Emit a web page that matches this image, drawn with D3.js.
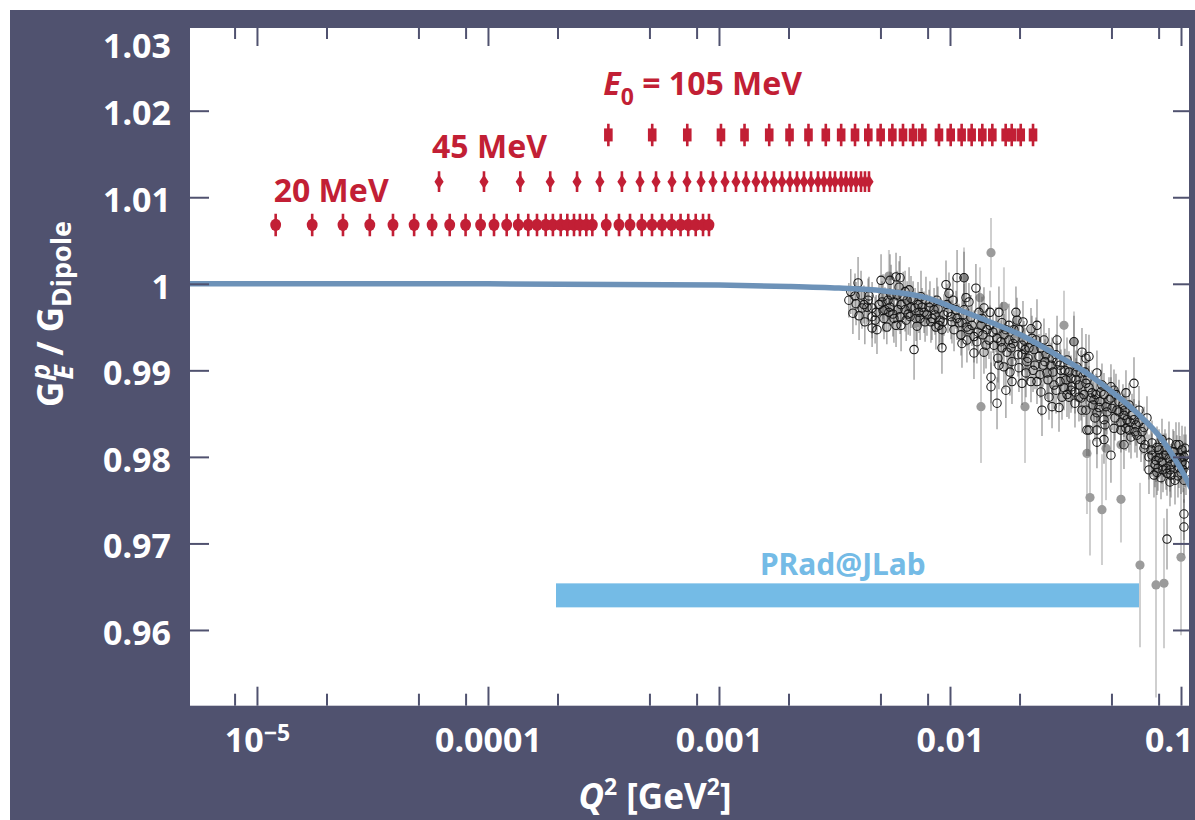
<!DOCTYPE html>
<html>
<head>
<meta charset="utf-8">
<title>Proton electric form factor ratio</title>
<script src="https://cdn.jsdelivr.net/npm/d3@7/dist/d3.min.js"></script>
<style>
  html, body { margin: 0; padding: 0; background: #ffffff; }
  svg { display: block; }
</style>
</head>
<body>
<svg id="chart" width="1195" height="820"></svg>
<script>
// ---------- axis ticks ----------
const xTicksMajor = [1e-5, 1e-4, 1e-3, 1e-2, 1e-1];
const xTickLabels = ["10", "0.0001", "0.001", "0.01", "0.1"];
const xTickExponents = ["\u22125", "", "", "", ""];
const xTicksMinor = [8e-6, 2e-5, 5e-5, 8e-5, 2e-4, 5e-4, 8e-4, 2e-3, 5e-3, 8e-3, 2e-2, 5e-2, 8e-2];
const yTicks = [0.96, 0.97, 0.98, 0.99, 1, 1.01, 1.02, 1.03];
const yTickLabels = ["0.96", "0.97", "0.98", "0.99", "1", "1.01", "1.02", "1.03"];

// ---------- projected beam-energy settings (Q^2 in GeV^2) ----------
const q2Beam20 = [1.205e-5, 1.734e-5, 2.357e-5, 3.08e-5, 3.88e-5, 4.79e-5, 5.73e-5, 6.83e-5, 8.0e-5, 9.29e-5,
  1.062e-4, 1.205e-4, 1.352e-4, 1.494e-4, 1.63e-4, 1.778e-4, 1.91e-4, 2.065e-4, 2.205e-4, 2.357e-4,
  2.5e-4, 2.665e-4, 2.83e-4, 3.25e-4, 3.69e-4, 4.12e-4, 4.63e-4, 5.13e-4, 5.67e-4, 6.24e-4,
  6.82e-4, 7.36e-4, 7.93e-4, 8.53e-4, 9.05e-4];
const q2Beam45 = [6.14e-5, 9.61e-5, 1.38e-4, 1.86e-4, 2.43e-4, 3.05e-4, 3.80e-4, 4.55e-4, 5.34e-4, 6.26e-4,
  7.27e-4, 8.36e-4, 9.42e-4, 1.062e-3, 1.185e-3, 1.309e-3, 1.446e-3, 1.582e-3, 1.730e-3, 1.874e-3,
  2.029e-3, 2.176e-3, 2.333e-3, 2.502e-3, 2.683e-3, 2.848e-3, 3.024e-3, 3.178e-3, 3.375e-3, 3.546e-3,
  3.728e-3, 3.918e-3, 4.119e-3, 4.285e-3, 4.460e-3];
const q2Beam105 = [3.32e-4, 5.14e-4, 7.29e-4, 1.02e-3, 1.29e-3, 1.65e-3, 2.02e-3, 2.44e-3, 2.90e-3, 3.38e-3,
  3.88e-3, 4.43e-3, 5.01e-3, 5.63e-3, 6.26e-3, 6.92e-3, 7.59e-3, 8.96e-3, 1.007e-2, 1.123e-2,
  1.241e-2, 1.380e-2, 1.525e-2, 1.742e-2, 1.850e-2, 2.024e-2, 2.288e-2];
const beamLevels = [1.0068, 1.0118, 1.0172];   // plotted offset for 20, 45, 105 MeV
const beamErrors = [0.0013, 0.0012, 0.0013];

// ---------- fit curve ----------
const fitQ2 = [4e-6, 1e-4, 1e-3, 2e-3, 3.31e-3, 5.08e-3, 7.87e-3, 1.09e-2, 1.52e-2, 2.13e-2, 2.96e-2,
  4.0e-2, 4.55e-2, 6.38e-2, 8.28e-2, 0.1062, 0.115];
const fitRatio = [1.0, 1.0, 0.99985, 0.9997, 0.9995, 0.9992, 0.9984, 0.9970, 0.9955, 0.9938, 0.9916,
  0.9895, 0.9884, 0.9852, 0.9820, 0.9773, 0.9755];

// ---------- PRad coverage ----------
const pradRange = [1.97e-4, 0.0663];
const pradLevel = 0.9640;

// ---------- measured points [Q^2, ratio, error] ----------
const mainzPoints = [
  [0.00400,1.0001,.0030],[0.00392,0.9977,.0025],[0.00424,0.9976,.0022],[0.00404,0.9963,.0028],
  [0.00437,0.9973,.0020],[0.00460,0.9972,.0030],[0.00460,0.9962,.0025],[0.00460,0.9949,.0022],
  [0.00483,0.9947,.0028],[0.00479,0.9967,.0020],[0.00503,1.0004,.0030],[0.00508,0.9979,.0024],
  [0.00523,0.9970,.0026],[0.00550,0.9973,.0022],[0.00556,0.9987,.0035],[0.00550,1.0004,.0030],
  [0.00584,1.0008,.0028],[0.00608,1.0007,.0025],[0.00602,0.9996,.0030],[0.00639,0.9991,.0024],
  [0.00665,0.9993,.0026],[0.00572,0.9960,.0028],[0.00584,0.9952,.0025],[0.00608,0.9962,.0020],
  [0.00614,0.9952,.0030],[0.00639,0.9970,.0025],[0.00672,0.9962,.0022],[0.00678,0.9973,.0024],
  [0.00699,0.9924,.0035],[0.00713,0.9960,.0026],[0.00734,0.9967,.0024],[0.00749,0.9985,.0030],
  [0.00757,0.9973,.0022],[0.00795,0.9964,.0024],[0.00811,0.9973,.0020],[0.00836,0.9960,.0025],
  [0.00869,0.9950,.0026],[0.00896,0.9952,.0030],[0.00923,0.9947,.0022],[0.00923,0.9926,.0030],
  [0.00961,0.9999,.0028],[0.00990,0.9989,.0024],[0.01010,0.9962,.0026],[0.01041,0.9947,.0025],
  [0.01073,1.0007,.0032],[0.01094,0.9955,.0022],[0.01116,0.9941,.0024],[0.01127,0.9931,.0028],
  [0.01150,0.9970,.0030],[0.01173,0.9984,.0026],[0.01184,0.9950,.0022],
  [0.00365,0.9981,.0020],[0.00372,0.9991,.0026],[0.00380,0.9966,.0024],[0.00412,0.9987,.0028],
  [0.00428,0.9956,.0026],[0.00446,0.9986,.0022],[0.00518,0.9960,.0024],[0.00533,0.9950,.0020],
  [0.00720,0.9951,.0025],[0.00780,0.9956,.0023],[0.00853,0.9970,.0025],[0.00942,0.9964,.0024],
  [0.00878,0.9981,.0026],[0.00652,0.9981,.0022],
  [0.01150,1.0007,.0030],[0.01295,0.9995,.0028],[0.01208,0.9979,.0022],[0.01403,0.9972,.0024],
  [0.01490,0.9967,.0025],[0.01127,0.9955,.0026],[0.01208,0.9947,.0024],[0.01270,0.9939,.0030],
  [0.01270,0.9920,.0030],[0.01403,0.9921,.0025],[0.01475,0.9935,.0022],[0.01582,0.9947,.0026],
  [0.01678,0.9955,.0024],[0.01800,0.9935,.0022],[0.01930,0.9967,.0030],[0.01950,0.9958,.0026],
  [0.01989,0.9947,.0024],[0.02091,0.9935,.0022],[0.02198,0.9926,.0025],[0.01629,0.9906,.0028],
  [0.01712,0.9904,.0026],[0.01505,0.9892,.0030],[0.01505,0.9881,.0028],[0.01746,0.9877,.0032],
  [0.01598,0.9862,.0030],[0.01855,0.9887,.0026],[0.02050,0.9885,.0025],[0.02133,0.9897,.0028],
  [0.02242,0.9887,.0024],[0.02380,0.9887,.0026],[0.02380,0.9952,.0030],[0.02242,0.9948,.0024],
  [0.02552,0.9935,.0025],[0.02428,0.9916,.0026],[0.02630,0.9897,.0030],[0.02907,0.9935,.0028],
  [0.02878,0.9918,.0024],[0.02477,0.9875,.0028],[0.02683,0.9869,.0026],[0.02502,0.9854,.0030],
  [0.02765,0.9858,.0025],[0.02964,0.9857,.0028],[0.03054,0.9869,.0026],[0.03178,0.9889,.0024],
  [0.03373,0.9881,.0025],[0.03441,0.9933,.0030],[0.03546,0.9904,.0026],[0.03617,0.9869,.0028],
  [0.03878,0.9914,.0028],[0.03917,0.9889,.0025],[0.03878,0.9854,.0026],[0.03917,0.9831,.0030],
  [0.01712,0.9941,.0024],[0.01837,0.9926,.0026],[0.01892,0.9947,.0022],[0.02050,0.9918,.0024],
  [0.02155,0.9910,.0026],[0.02310,0.9924,.0024],[0.01765,0.9921,.0025],[0.01550,0.9929,.0024],
  [0.01362,0.9952,.0022],[0.01308,0.9933,.0025],[0.01446,0.9947,.0023],[0.01629,0.9967,.0030],
  [0.01855,0.9910,.0026],[0.01989,0.9903,.0028],[0.02603,0.9918,.0025],[0.02738,0.9906,.0026],
  [0.03024,0.9900,.0024],[0.03210,0.9912,.0026],[0.02820,0.9883,.0028],[0.03115,0.9880,.0026],
  [0.03274,0.9898,.0024],[0.03689,0.9897,.0026],
  [0.03996,0.9916,.0025],[0.04327,0.9897,.0026],[0.03727,0.9921,.0028],[0.03511,0.9889,.0025],
  [0.03878,0.9885,.0024],[0.04549,0.9883,.0025],[0.04975,0.9881,.0026],[0.06259,0.9885,.0030],
  [0.05778,0.9874,.0026],[0.05389,0.9864,.0025],[0.04734,0.9858,.0028],[0.04327,0.9851,.0026],
  [0.03996,0.9831,.0030],[0.04327,0.9831,.0028],[0.04327,0.9817,.0030],[0.04975,0.9802,.0032],
  [0.05955,0.9831,.0026],[0.06075,0.9823,.0025],[0.06579,0.9854,.0028],[0.07124,0.9845,.0025],
  [0.06449,0.9825,.0026],[0.06915,0.9834,.0024],[0.07490,0.9816,.0026],[0.08274,0.9820,.0024],
  [0.08872,0.9816,.0025],[0.09800,0.9814,.0026],[0.10100,0.9808,.0028],[0.07268,0.9800,.0026],
  [0.07795,0.9796,.0025],[0.07268,0.9785,.0028],[0.07873,0.9782,.0026],[0.08611,0.9787,.0025],
  [0.09052,0.9779,.0026],[0.09420,0.9794,.0024],[0.10300,0.9800,.0026],[0.08872,0.9798,.0025],
  [0.09800,0.9788,.0024],[0.03476,0.9862,.0028],[0.03727,0.9854,.0026],[0.03274,0.9869,.0025],
  [0.04641,0.9872,.0025],[0.04878,0.9866,.0026],[0.05128,0.9877,.0024],[0.05281,0.9854,.0026],
  [0.05665,0.9848,.0025],[0.05497,0.9840,.0028],[0.04641,0.9843,.0026],[0.04201,0.9866,.0025],
  [0.04416,0.9857,.0024],[0.05955,0.9860,.0025],[0.04118,0.9874,.0026],[0.05128,0.9833,.0026],
  [0.05837,0.9843,.0025],[0.06259,0.9843,.0024],[0.06712,0.9820,.0026],
  [0.08030,0.9808,.0024],[0.08440,0.9802,.0025],[0.09325,0.9806,.0024],[0.09607,0.9799,.0026],
  [0.10410,0.9810,.0025],[0.08274,0.9794,.0025],[0.08698,0.9781,.0026],[0.10000,0.9782,.0025],
  [0.09420,0.9773,.0028],[0.10410,0.9791,.0026],[0.07640,0.9779,.0026],[0.08193,0.9776,.0025],
  [0.10300,0.9734,.0030],[0.10300,0.9719,.0032],[0.08698,0.9705,.0035],[0.04641,0.9820,.0028],
  [0.05665,0.9814,.0028],[0.06915,0.9810,.0026],
  [0.00493,0.9976,.0024],[0.00513,0.9985,.0026],[0.00544,0.9967,.0022],[0.00572,0.9979,.0025],
  [0.00596,0.9970,.0024],[0.00627,0.9986,.0028],[0.00646,0.9958,.0024],[0.00692,0.9981,.0022],
  [0.00727,0.9976,.0026],[0.00772,0.9967,.0024],[0.00819,0.9978,.0025],[0.00861,0.9964,.0023],
  [0.00905,0.9958,.0026],[0.00970,0.9976,.0024],[0.01020,0.9956,.0025],[0.01062,0.9970,.0022],
  [0.01232,0.9961,.0026],[0.01335,0.9967,.0024],[0.01390,0.9941,.0025],[0.01490,0.9952,.0023],
  [0.01598,0.9937,.0026],[0.01678,0.9926,.0024],[0.01800,0.9952,.0025],[0.01911,0.9937,.0026],
  [0.02070,0.9956,.0024],[0.02112,0.9924,.0025],[0.02265,0.9937,.0026],[0.02333,0.9906,.0028],
  [0.02477,0.9926,.0024],[0.02577,0.9910,.0026],[0.02683,0.9924,.0025],[0.02792,0.9898,.0026],
  [0.02907,0.9910,.0024],[0.02994,0.9887,.0028],[0.03146,0.9900,.0025],[0.03340,0.9891,.0026],
  [0.03476,0.9875,.0025],[0.03617,0.9883,.0024],[0.03802,0.9872,.0026],[0.03996,0.9880,.0025],
  [0.04159,0.9860,.0026],[0.04285,0.9872,.0024],[0.04460,0.9864,.0025],[0.04782,0.9852,.0026],
  [0.04975,0.9868,.0024],[0.05179,0.9845,.0026],[0.05389,0.9852,.0025],[0.05608,0.9860,.0024],
  [0.05778,0.9833,.0026],[0.06136,0.9848,.0025],[0.06385,0.9837,.0024],[0.06779,0.9829,.0026],
  [0.07414,0.9808,.0025],[0.07718,0.9791,.0026],[0.08030,0.9799,.0024],[0.08357,0.9785,.0026],
  [0.08611,0.9802,.0025],[0.09052,0.9791,.0024],[0.09233,0.9806,.0026],[0.09704,0.9778,.0025],
  [0.10100,0.9794,.0024],[0.10510,0.9782,.0026],[0.08960,0.9771,.0028],[0.10300,0.9773,.0026],
  [0.07873,0.9811,.0024],
  [0.00388,0.9986,.0026],[0.00416,0.9972,.0024],[0.00442,0.9981,.0025],[0.00474,0.9958,.0027],
  [0.00513,0.9969,.0024],[0.00539,0.9981,.0023],[0.00566,0.9965,.0026],[0.00590,0.9987,.0028],
  [0.00614,0.9976,.0025],[0.00659,0.9965,.0024],[0.00678,0.9983,.0026],[0.00706,0.9972,.0023],
  [0.00742,0.9960,.0025],[0.00787,0.9981,.0027],[0.00827,0.9956,.0024],[0.00887,0.9971,.0026],
  [0.00932,0.9956,.0025],[0.00980,0.9967,.0024],[0.01030,0.9981,.0026],[0.01073,0.9960,.0025],
  [0.01139,0.9964,.0025],[0.01184,0.9935,.0026],[0.01245,0.9952,.0024],[0.01322,0.9944,.0026],
  [0.01376,0.9960,.0025],[0.01432,0.9929,.0027],[0.01535,0.9944,.0024],[0.01612,0.9914,.0028],
  [0.01661,0.9933,.0025],[0.01746,0.9947,.0024],[0.01818,0.9898,.0027],[0.01874,0.9931,.0026],
  [0.01969,0.9918,.0025],[0.02050,0.9929,.0024],[0.02176,0.9914,.0026],[0.02288,0.9900,.0025],
  [0.02357,0.9935,.0026],[0.02453,0.9895,.0027],[0.02527,0.9906,.0025],[0.02656,0.9889,.0026],
  [0.02765,0.9914,.0024],[0.02878,0.9877,.0027],[0.02994,0.9906,.0025],[0.03210,0.9872,.0026],
  [0.03340,0.9877,.0026],[0.03511,0.9898,.0025],[0.03689,0.9868,.0026],[0.03840,0.9898,.0024],
  [0.04077,0.9868,.0026],[0.04243,0.9845,.0027],[0.04504,0.9875,.0025],[0.04687,0.9837,.0026],
  [0.05026,0.9856,.0025],[0.05230,0.9872,.0024],[0.05497,0.9831,.0026],[0.05722,0.9854,.0025],
  [0.06015,0.9840,.0026],[0.06322,0.9829,.0024],[0.06579,0.9840,.0025],[0.06984,0.9814,.0026],
  [0.07490,0.9802,.0025],[0.07950,0.9787,.0026],[0.08525,0.9808,.0024],[0.08960,0.9785,.0025],
  [0.09512,0.9814,.0026],[0.09898,0.9799,.0025],[0.10200,0.9785,.0026],[0.10510,0.9802,.0024]
];

// other data sets, drawn as grey filled points
const otherPoints = [
  [0.01505,1.0036,.0040],[0.01712,0.9974,.0045],[0.03115,0.9952,.0040],[0.03441,0.9933,.0035],
  [0.01362,0.9858,.0065],[0.02112,0.9858,.0065],[0.03917,0.9804,.0070],[0.04734,0.9810,.0060],
  [0.05497,0.9814,.0050],[0.04037,0.9753,.0067],[0.04549,0.9739,.0064],[0.05497,0.9751,.0050],
  [0.06645,0.9675,.0095],[0.07795,0.9652,.0130],[0.08440,0.9654,.0075],[0.10000,0.9684,.0090],
  [0.00544,1.0009,.0030],[0.01150,1.0007,.0035],[0.01349,0.9984,.0035]
];

// ---------- layout and style ----------
const fontStack = "'Noto Sans', 'Open Sans', 'DejaVu Sans', sans-serif";
const panelColor = "#50526f";
const red = "#c21f35";
const pradBlue = "#74bbe6";
const fitColor = "#6d92b8";
const plot = { left: 190, top: 28, right: 1189, bottom: 705.7 };

const svg = d3.select("#chart").attr("font-family", fontStack);

const x = d3.scaleLog().domain([5.13e-6, 0.1083]).range([plot.left, plot.right]);
const y = d3.scaleLinear().domain([0.95125, 1.029555]).range([plot.bottom, plot.top]);

// dark frame and white plotting area
svg.append("rect").attr("x", 10).attr("y", 10).attr("width", 1185).attr("height", 810).attr("fill", panelColor);
svg.append("rect").attr("x", plot.left).attr("y", plot.top)
  .attr("width", plot.right - plot.left).attr("height", plot.bottom - plot.top).attr("fill", "#ffffff");

svg.append("clipPath").attr("id", "plotClip").append("rect")
  .attr("x", plot.left).attr("y", plot.top)
  .attr("width", plot.right - plot.left).attr("height", plot.bottom - plot.top);

const inner = svg.append("g").attr("clip-path", "url(#plotClip)");

// PRad kinematic coverage
inner.append("rect")
  .attr("x", x(pradRange[0])).attr("width", x(pradRange[1]) - x(pradRange[0]))
  .attr("y", y(pradLevel) - 12).attr("height", 24)
  .attr("fill", pradBlue);

// grey data sets
inner.append("g").selectAll("line").data(otherPoints).join("line")
  .attr("x1", d => x(d[0])).attr("x2", d => x(d[0]))
  .attr("y1", d => y(d[1] - d[2])).attr("y2", d => y(d[1] + d[2]))
  .attr("stroke", "#cfcfcf").attr("stroke-width", 2);
inner.append("g").selectAll("circle").data(otherPoints).join("circle")
  .attr("cx", d => x(d[0])).attr("cy", d => y(d[1])).attr("r", 4.6)
  .attr("fill", "#9b9b9b");

// measured points with error bars
inner.append("g").selectAll("line").data(mainzPoints).join("line")
  .attr("x1", d => x(d[0])).attr("x2", d => x(d[0]))
  .attr("y1", d => y(d[1] - d[2])).attr("y2", d => y(d[1] + d[2]))
  .attr("stroke", "#555").attr("stroke-opacity", 0.6).attr("stroke-width", 1.3);
inner.append("g").selectAll("circle").data(mainzPoints).join("circle")
  .attr("cx", d => x(d[0])).attr("cy", d => y(d[1])).attr("r", 4.2)
  .attr("fill", "none").attr("stroke", "#151515").attr("stroke-width", 1.05);

// fit curve
const fitData = fitQ2.map((q, i) => [q, fitRatio[i]]);
inner.append("path").datum(fitData)
  .attr("d", d3.line().x(d => x(d[0])).y(d => y(d[1])).curve(d3.curveMonotoneX))
  .attr("fill", "none").attr("stroke", fitColor).attr("stroke-width", 5.5);

// projected points for three beam energies
const beams = [
  { q2: q2Beam20, level: beamLevels[0], err: beamErrors[0], shape: "ellipse" },
  { q2: q2Beam45, level: beamLevels[1], err: beamErrors[1], shape: "diamond" },
  { q2: q2Beam105, level: beamLevels[2], err: beamErrors[2], shape: "rect" }
];
beams.forEach(b => {
  const g = inner.append("g").attr("fill", red).attr("stroke", red);
  g.selectAll("line").data(b.q2).join("line")
    .attr("x1", d => x(d)).attr("x2", d => x(d))
    .attr("y1", y(b.level - b.err)).attr("y2", y(b.level + b.err))
    .attr("stroke-width", 2.6);
  const cy = y(b.level);
  if (b.shape === "ellipse") {
    g.selectAll("ellipse").data(b.q2).join("ellipse")
      .attr("cx", d => x(d)).attr("cy", cy).attr("rx", 5.4).attr("ry", 6.2).attr("stroke", "none");
  } else if (b.shape === "diamond") {
    g.selectAll("path").data(b.q2).join("path")
      .attr("d", d => `M${x(d)},${cy - 7}L${x(d) + 4.6},${cy}L${x(d)},${cy + 7}L${x(d) - 4.6},${cy}Z`)
      .attr("stroke", "none");
  } else {
    g.selectAll("rect").data(b.q2).join("rect")
      .attr("x", d => x(d) - 4.3).attr("y", cy - 6.5).attr("width", 8.6).attr("height", 13)
      .attr("stroke", "none");
  }
});

// ---------- axes ----------
function styleAxis(g) {
  g.attr("font-family", fontStack).attr("font-size", 34).attr("font-weight", 700);
  g.select(".domain").remove();
  g.selectAll(".tick line").attr("stroke", panelColor).attr("stroke-width", 2);
  g.selectAll(".tick text").attr("fill", "#ffffff");
}

const gxMajor = svg.append("g").attr("transform", `translate(0,${plot.bottom})`)
  .call(d3.axisBottom(x).tickValues(xTicksMajor).tickSize(-19).tickPadding(22)
    .tickFormat((d, i) => xTickLabels[i]));
styleAxis(gxMajor);
gxMajor.selectAll(".tick text").each(function (d, i) {
  if (xTickExponents[i]) {
    d3.select(this).append("tspan").attr("dy", "-0.48em").attr("font-size", 23).text(xTickExponents[i]);
  }
});
// the last label is right-aligned against the frame edge so it stays whole
gxMajor.selectAll(".tick text").filter(d => d === xTicksMajor[xTicksMajor.length - 1])
  .attr("text-anchor", "end").attr("x", 1193 - x(xTicksMajor[xTicksMajor.length - 1]));

const gxMinor = svg.append("g").attr("transform", `translate(0,${plot.bottom})`)
  .call(d3.axisBottom(x).tickValues(xTicksMinor).tickSize(-12).tickFormat(""));
styleAxis(gxMinor);

const gxTop = svg.append("g").attr("transform", `translate(0,${plot.top})`)
  .call(d3.axisTop(x).tickValues(xTicksMajor).tickSize(-18).tickFormat(""));
styleAxis(gxTop);
const gxTopMinor = svg.append("g").attr("transform", `translate(0,${plot.top})`)
  .call(d3.axisTop(x).tickValues(xTicksMinor).tickSize(-11).tickFormat(""));
styleAxis(gxTopMinor);

const gy = svg.append("g").attr("transform", `translate(${plot.left},0)`)
  .call(d3.axisLeft(y).tickValues(yTicks).tickSize(-19).tickPadding(19)
    .tickFormat((d, i) => yTickLabels[i]));
styleAxis(gy);
gy.selectAll(".tick text").attr("dy", "0.42em");
// the top label sits just inside the frame, without a tick mark
const topTick = gy.selectAll(".tick").filter(d => d === yTicks[yTicks.length - 1]);
topTick.select("line").remove();
topTick.select("text").attr("y", plot.top + 15 - y(yTicks[yTicks.length - 1]));

const gyRight = svg.append("g").attr("transform", `translate(${plot.right},0)`)
  .call(d3.axisRight(y).tickValues(yTicks.slice(0, -1)).tickSize(-16).tickFormat(""));
styleAxis(gyRight);

// ---------- titles ----------
const xTitle = svg.append("text")
  .attr("x", 655).attr("y", 809).attr("text-anchor", "middle")
  .attr("fill", "#ffffff").attr("font-size", 35).attr("font-weight", 700);
xTitle.append("tspan").attr("font-style", "italic").text("Q");
xTitle.append("tspan").attr("font-size", 23).attr("dy", -14).text("2");
xTitle.append("tspan").attr("dy", 14).text(" [GeV");
xTitle.append("tspan").attr("font-size", 23).attr("dy", -14).text("2");
xTitle.append("tspan").attr("dy", 14).text("]");

const yTitle = svg.append("text")
  .attr("transform", "translate(63,314) rotate(-90)").attr("text-anchor", "middle")
  .attr("fill", "#ffffff").attr("font-size", 35).attr("font-weight", 700);
yTitle.append("tspan").text("G");
yTitle.append("tspan").attr("font-size", 27).attr("font-style", "italic").attr("dx", 2).attr("dy", -13).text("p");
yTitle.append("tspan").attr("font-size", 27).attr("font-style", "italic").attr("dx", -16).attr("dy", 23).text("E");
yTitle.append("tspan").attr("dy", -10).text(" / G");
yTitle.append("tspan").attr("font-size", 27).attr("dy", 8).text("Dipole");

// beam energy labels
const labelStyle = t => t.attr("fill", red).attr("font-size", 32).attr("font-weight", 700);
svg.append("text").attr("x", x(q2Beam20[0]) - 2).attr("y", 202).call(labelStyle).text("20 MeV");
svg.append("text").attr("x", x(q2Beam45[0]) - 7).attr("y", 158).call(labelStyle).text("45 MeV");
const e0 = svg.append("text").attr("x", x(q2Beam105[0]) - 5).attr("y", 95).call(labelStyle);
e0.append("tspan").attr("font-style", "italic").text("E");
e0.append("tspan").attr("font-size", 23).attr("dy", 10).text("0");
e0.append("tspan").attr("dy", -10).text(" = 105 MeV");

// PRad label
svg.append("text")
  .attr("x", (x(pradRange[0]) + x(pradRange[1])) / 2 - 5).attr("y", 575)
  .attr("text-anchor", "middle").attr("fill", pradBlue)
  .attr("font-size", 30).attr("font-weight", 700).text("PRad@JLab");
</script>
</body>
</html>
